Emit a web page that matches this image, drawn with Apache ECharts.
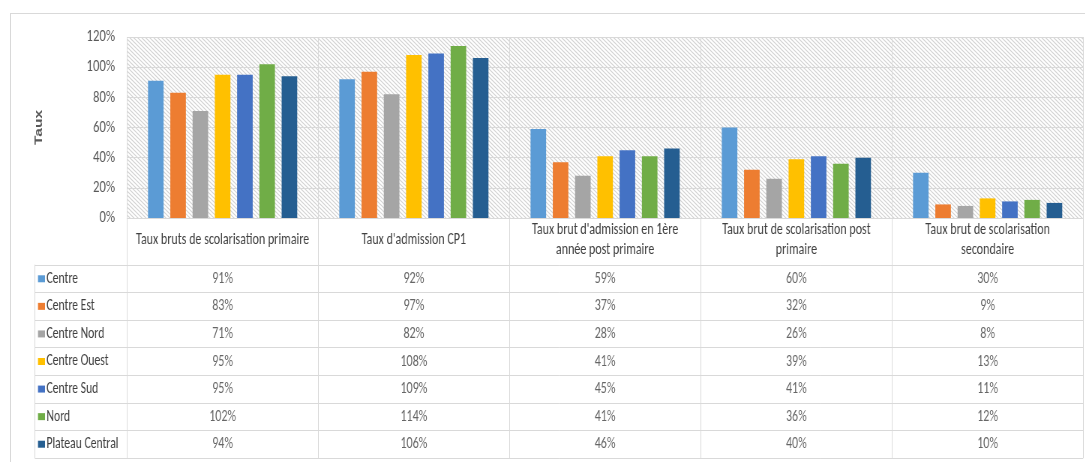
<!DOCTYPE html>
<html>
<head>
<meta charset="utf-8">
<script src="https://cdn.jsdelivr.net/npm/echarts@6/dist/echarts.min.js"></script>
<style>
  html, body { margin: 0; padding: 0; background: #ffffff; overflow: hidden; }
  #wrap { position: relative; width: 1085px; height: 462px; overflow: hidden; }
  #chart { position: absolute; left: 0; top: 0; height: 462px; transform-origin: 0 0; }
  #frame { position: absolute; left: 10px; top: 13px; width: 1090px; height: 470px;
           border: 1px solid #d9d9d9; box-sizing: border-box; pointer-events: none; }
</style>
</head>
<body>
<div id="wrap">
  <div id="chart"></div>
  <div id="frame"></div>
</div>
<script>
// ---- data ----
const categories = [
  "Taux bruts de scolarisation primaire",
  "Taux d'admission CP1",
  "Taux brut d'admission en 1ère année post primaire",
  "Taux brut de scolarisation post primaire",
  "Taux brut de scolarisation secondaire"
];
// category labels as wrapped in the table header
const categoryLabels = [
  "Taux bruts de scolarisation primaire",
  "Taux d'admission CP1",
  "Taux brut d'admission en 1ère\nannée post primaire",
  "Taux brut de scolarisation post\nprimaire",
  "Taux brut de scolarisation\nsecondaire"
];
const seriesNames = ["Centre", "Centre Est", "Centre Nord", "Centre Ouest", "Centre Sud", "Nord", "Plateau Central"];
const centre         = [91, 92, 59, 60, 30];
const centreEst      = [83, 97, 37, 32, 9];
const centreNord     = [71, 82, 28, 26, 8];
const centreOuest    = [95, 108, 41, 39, 13];
const centreSud      = [95, 109, 45, 41, 11];
const nord           = [102, 114, 41, 36, 12];
const plateauCentral = [94, 106, 46, 40, 10];
const yTicks = [0, 20, 40, 60, 80, 100, 120];
const yAxisTitle = "Taux";

// ---- styling ----
const seriesValues = [centre, centreEst, centreNord, centreOuest, centreSud, nord, plateauCentral];
const colors = ["#5B9BD5", "#ED7D31", "#A5A5A5", "#FFC000", "#4472C4", "#70AD47", "#255E91"];
const gridLine = "#d9d9d9";
const font = "Carlito, Calibri, 'Liberation Sans', sans-serif";

// the picture is horizontally condensed: draw wider, then squeeze
const SX = 0.75;
const W = 1085 / SX;
const X = v => v / SX;             // screen x -> chart x
const el = document.getElementById('chart');
el.style.width = W + 'px';
el.style.transform = 'scaleX(' + SX + ')';

// hatch pattern (45 deg after squeeze)
const pc = document.createElement('canvas');
pc.width = 16; pc.height = 12;
const g = pc.getContext('2d');
g.fillStyle = '#ffffff'; g.fillRect(0, 0, 16, 12);
g.strokeStyle = '#d2d2d2'; g.lineWidth = 1.1;
g.beginPath();
for (let k = -4; k <= 4; k++) {
  const x0 = k * 16 / 3;
  g.moveTo(x0 - 16 / 12, -1); g.lineTo(x0 + 16 + 16 / 12, 13);
}
g.stroke();

const chart = echarts.init(el, null, { renderer: 'canvas' });

const barSeries = seriesNames.map((n, i) => ({
  name: n, type: 'bar', xAxisIndex: 0, yAxisIndex: 0,
  data: seriesValues[i],
  itemStyle: { color: colors[i] },
  barGap: '43%', barCategoryGap: '22%',
  animation: false
}));

const cells = [];
seriesValues.forEach((arr, r) => arr.forEach((v, c) => cells.push([c, r, v])));

const rich = {};
colors.forEach((c, i) => { rich['s' + i] = { backgroundColor: c, width: X(7), height: 7 }; });
rich.t = { fontFamily: font, fontSize: 15.5, color: '#404040', padding: [0, 0, 0, 2] };

const plotLeft = X(127), tableLeft = X(35), rightGap = W - X(1083);

const option = {
  backgroundColor: 'transparent',
  animation: false,
  grid: [
    { left: plotLeft, right: rightGap, top: 37, height: 181, show: true,
      backgroundColor: { image: pc, repeat: 'repeat' }, borderWidth: 0, containLabel: false },
    { left: tableLeft, right: rightGap, top: 265, height: 193, containLabel: false },
    { left: plotLeft, right: rightGap, top: 265, height: 193, containLabel: false }
  ],
  xAxis: [
    { type: 'category', gridIndex: 0, data: categories,
      axisLine: { show: true, lineStyle: { color: gridLine } },
      axisTick: { show: true, interval: 0, length: 47, lineStyle: { color: gridLine } },
      splitLine: { show: true, interval: 0, lineStyle: { color: gridLine } },
      axisLabel: { interval: 0, margin: 22, verticalAlign: 'middle', fontFamily: font, fontSize: 16,
                   color: '#404040', lineHeight: 20,
                   formatter: (v, i) => categoryLabels[i] } },
    { type: 'value', gridIndex: 1, show: false, min: 0, max: 1 },
    { type: 'category', gridIndex: 2, data: categories,
      axisLine: { show: false }, axisTick: { show: false }, axisLabel: { show: false },
      splitLine: { show: true, interval: 0, lineStyle: { color: gridLine } } }
  ],
  yAxis: [
    { type: 'value', gridIndex: 0, min: 0, max: 120, interval: 20,
      name: yAxisTitle, nameLocation: 'middle', nameGap: 110, nameRotate: 90,
      nameTextStyle: { fontFamily: "'Liberation Sans', Arial, sans-serif", fontWeight: 'bold', fontSize: 15.5, color: '#595959' },
      axisLine: { show: false }, axisTick: { show: false },
      splitLine: { show: true, lineStyle: { color: gridLine } },
      axisLabel: { formatter: v => (yTicks.includes(v) ? v + '%' : ''), margin: 16,
                   fontFamily: font, fontSize: 17, color: '#595959' } },
    { type: 'category', gridIndex: 1, data: seriesNames, inverse: true,
      axisLine: { show: true, lineStyle: { color: gridLine } }, axisTick: { show: false },
      splitLine: { show: true, interval: 0, lineStyle: { color: gridLine } },
      axisLabel: { inside: true, margin: 4, interval: 0, align: 'left',
                   formatter: (v, i) => '{s' + i + '|}{t|' + v + '}', rich: rich } },
    { type: 'category', gridIndex: 2, data: seriesNames, inverse: true, show: false }
  ],
  series: barSeries.concat([
    { type: 'scatter', xAxisIndex: 2, yAxisIndex: 2, data: cells,
      symbolSize: 1, itemStyle: { color: 'rgba(0,0,0,0)' },
      label: { show: true, position: 'inside', formatter: p => p.value[2] + '%',
               fontFamily: font, fontSize: 16, color: '#404040' },
      silent: true }
  ])
};
chart.setOption(option);
</script>
</body>
</html>
